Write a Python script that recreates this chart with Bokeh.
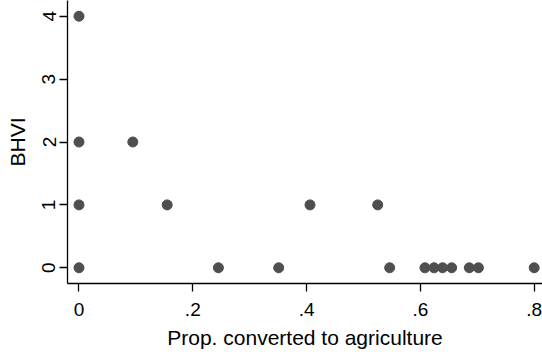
from bokeh.plotting import figure
from bokeh.models import ColumnDataSource, FixedTicker, Range1d
from bokeh.embed import file_html
from bokeh.resources import INLINE

# Data
prop_converted = [0.0, 0.245, 0.351, 0.546, 0.608, 0.624, 0.639, 0.655, 0.686, 0.702, 0.800,
                  0.0, 0.155, 0.406, 0.525,
                  0.0, 0.0946,
                  0.0]
bhvi = [0, 0, 0, 0, 0, 0, 0, 0, 0, 0, 0,
        1, 1, 1, 1,
        2, 2,
        4]
x_ticks = [0, 0.2, 0.4, 0.6, 0.8]
x_tick_labels = {0: "0", 0.2: ".2", 0.4: ".4", 0.6: ".6", 0.8: ".8"}
y_ticks = [0, 1, 2, 3, 4]

src = ColumnDataSource(dict(x=prop_converted, y=bhvi))

p = figure(width=542, height=354, output_backend="svg", toolbar_location=None,
           x_range=Range1d(-0.0202, 0.8146), y_range=Range1d(-0.25, 4.25),
           min_border_left=67, min_border_right=0, min_border_top=0, min_border_bottom=71)
p.outline_line_color = None
p.background_fill_color = "white"
p.border_fill_color = "white"
p.xgrid.grid_line_color = None
p.ygrid.grid_line_color = None

p.scatter("x", "y", source=src, size=10, marker="circle",
          fill_color="#4f4f4f", line_color="#4f4f4f")

font = "Liberation Sans"
for ax in (p.xaxis[0], p.yaxis[0]):
    ax.axis_line_color = "black"
    ax.axis_line_width = 1.3
    ax.major_tick_line_color = "black"
    ax.major_tick_line_width = 1.3
    ax.major_tick_in = 0
    ax.major_tick_out = 8
    ax.minor_tick_line_color = None
    ax.major_label_text_font = font
    ax.major_label_text_font_size = "19px"
    ax.major_label_text_color = "black"
    ax.axis_label_text_font = font
    ax.axis_label_text_font_size = "21px"
    ax.axis_label_text_font_style = "normal"
    ax.axis_label_text_color = "black"

p.xaxis.ticker = FixedTicker(ticks=x_ticks)
p.xaxis.major_label_overrides = x_tick_labels
p.xaxis.axis_label = "Prop. converted to agriculture"
p.xaxis.major_label_standoff = 11
p.xaxis.axis_label_standoff = 7

p.yaxis.ticker = FixedTicker(ticks=y_ticks)
p.yaxis.major_label_orientation = "vertical"
p.yaxis.axis_label = "BHVI"
p.yaxis.major_label_standoff = 4
p.yaxis.axis_label_standoff = 11

open("out.html", "w").write(file_html(p, INLINE))
